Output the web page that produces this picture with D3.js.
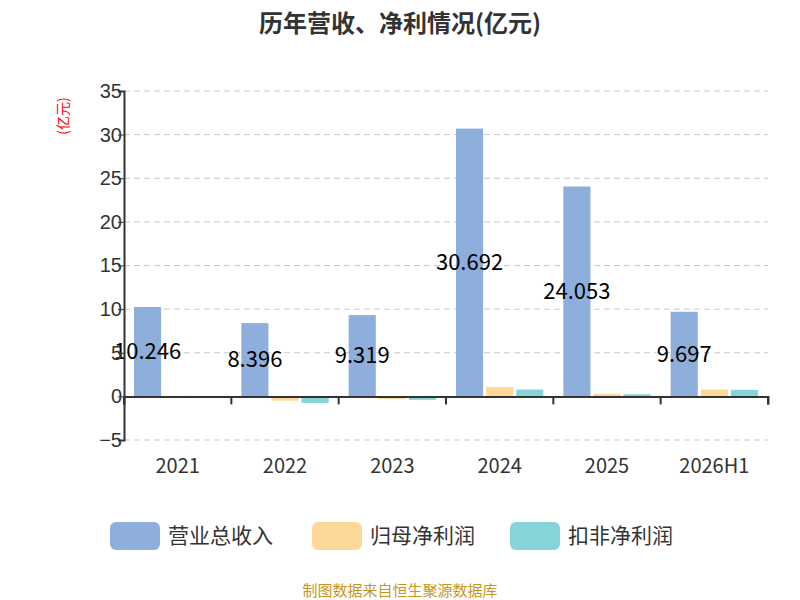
<!DOCTYPE html>
<html><head><meta charset="utf-8">
<script src="https://cdn.jsdelivr.net/npm/d3@7"></script>
<style>body{margin:0;background:#fff}</style>
</head><body><div id="chart"></div>
<script>
// data
var years = ["2021", "2022", "2023", "2024", "2025", "2026H1"];
var revenue = [10.246, 8.396, 9.319, 30.692, 24.053, 9.697];
var netProfit = [0.05, -0.5, -0.3, 1.07, 0.3, 0.78];
var deductedProfit = [-0.1, -0.75, -0.4, 0.78, 0.25, 0.75];
var seriesNames = ["营业总收入", "归母净利润", "扣非净利润"];
var colors = ["#8eaedb", "#fed898", "#85d5d8"];
var yTicks = [-5, 0, 5, 10, 15, 20, 25, 30, 35];

var svg = d3.select("#chart").append("svg").attr("width", 800).attr("height", 600)
  .style("font-family", "'Noto Sans CJK SC', 'Open Sans', sans-serif");

var margin = {top: 91, left: 124, right: 32, bottom: 160};
var width = 800 - margin.left - margin.right;
var height = 600 - margin.top - margin.bottom;
var g = svg.append("g").attr("transform", "translate(" + margin.left + "," + margin.top + ")");

var x = d3.scaleBand().domain(years).range([0, width]);
var y = d3.scaleLinear().domain([-5, 35]).range([height, 0]);
var x1 = d3.scaleBand().domain([0, 1, 2]).range([10, x.bandwidth() - 10]).paddingInner(0.1);

// grid
g.selectAll(".grid").data(yTicks).enter().append("line")
  .attr("x1", 0).attr("x2", width)
  .attr("y1", d => y(d)).attr("y2", d => y(d))
  .attr("stroke", "#c8c8c8").attr("stroke-dasharray", "6,4");

// bars
var series = [revenue, netProfit, deductedProfit];
series.forEach(function(vals, si) {
  g.selectAll(".b" + si).data(vals).enter().append("rect")
    .attr("x", (d, i) => x(years[i]) + x1(si))
    .attr("width", x1.bandwidth())
    .attr("y", d => y(Math.max(0, d)))
    .attr("height", d => Math.abs(y(d) - y(0)))
    .attr("fill", colors[si]);
});

// labels
g.selectAll(".lbl").data(revenue).enter().append("text")
  .attr("x", (d, i) => x(years[i]) + x1(0) + x1.bandwidth() / 2)
  .attr("y", d => y(d / 2))
  .attr("dy", "0.35em").attr("text-anchor", "middle")
  .attr("font-size", 22).attr("fill", "#000")
  .text(d => d);

// axes
var leftAxis = d3.axisLeft(y).tickValues(yTicks).tickSize(6);
var ya = g.append("g").call(leftAxis);
ya.select(".domain").attr("stroke", "#333").attr("stroke-width", 2);
ya.selectAll("text").attr("font-size", 20).attr("fill", "#333").attr("x", -2);
ya.selectAll("line").attr("stroke", "#333");

var xa = g.append("g").attr("transform", "translate(0," + y(0) + ")")
  .call(d3.axisBottom(x).tickSize(8).tickFormat(""));
xa.select(".domain").attr("stroke", "#333").attr("stroke-width", 2);
xa.selectAll(".tick line").attr("transform", "translate(" + (-x.bandwidth() / 2) + ",0)").attr("stroke", "#333").attr("stroke-width", 2);
g.append("line").attr("x1", width).attr("x2", width).attr("y1", y(0)).attr("y2", y(0) + 8).attr("stroke", "#333").attr("stroke-width", 2);

g.selectAll(".xl").data(years).enter().append("text")
  .attr("x", d => x(d) + x.bandwidth() / 2).attr("y", height + 33)
  .attr("text-anchor", "middle").attr("font-size", 20).attr("fill", "#333").text(d => d);

// unit
svg.append("text").attr("transform", "translate(68,116) rotate(-90)")
  .attr("text-anchor", "middle").attr("font-size", 14).attr("fill", "red").text("(亿元)");

// title
svg.append("text").attr("x", 400).attr("y", 32).attr("text-anchor", "middle")
  .attr("font-size", 24).attr("font-weight", "bold").attr("fill", "#333").text("历年营收、净利情况(亿元)");

// legend
var legX = [110, 312, 510];
seriesNames.forEach(function(n, i) {
  svg.append("rect").attr("x", legX[i]).attr("y", 522).attr("width", 50).attr("height", 28).attr("rx", 6).attr("fill", colors[i]);
  svg.append("text").attr("x", legX[i] + 58).attr("y", 536).attr("dy", "0.35em")
    .attr("font-size", 21).attr("fill", "#333").text(n);
});

svg.append("text").attr("x", 400).attr("y", 596).attr("text-anchor", "middle")
  .attr("font-size", 15).attr("fill", "#c8961e").text("制图数据来自恒生聚源数据库");
</script></body></html>
